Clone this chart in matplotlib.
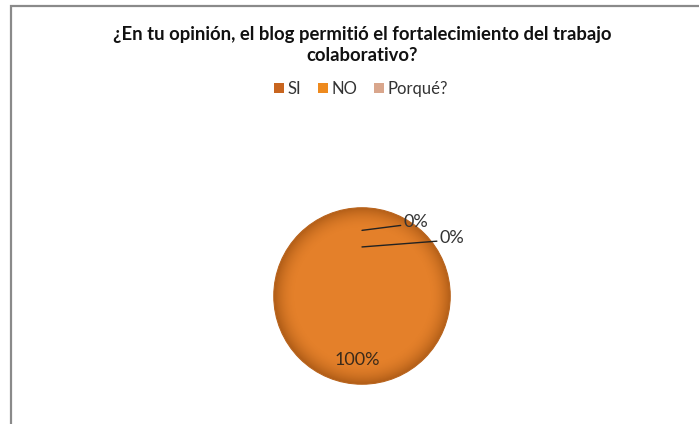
import numpy as np
import matplotlib.pyplot as plt
from matplotlib.patches import Rectangle, Circle

categories = ["SI", "NO", "Porqué?"]
values = [100, 0, 0]
pct_labels = ["100%", "0%", "0%"]
colors = ["#E4802A", "#F2961F", "#D9A68C"]
legend_colors = ["#C8651F", "#EE8A1E", "#D9A68C"]
title = "¿En tu opinión, el blog permitió el fortalecimiento del trabajo\ncolaborativo?"

plt.rcParams["font.family"] = ["Lato", "DejaVu Sans"]

fig = plt.figure(figsize=(6.99, 4.24), dpi=100)
fig.patch.set_facecolor("white")

# chart frame (cropped at the right and bottom)
fig.patches.append(Rectangle((11 / 699, -0.05), 1.0, 1 - 6 / 424 + 0.05,
                             transform=fig.transFigure, fill=False,
                             edgecolor="#8a8a8a", linewidth=1.6))

fig.text(362 / 699, 1 - 45 / 424, title, ha="center", va="center",
         fontsize=13.3, fontweight="bold", color="#111111", linespacing=1.35)

# legend
handles = [plt.Rectangle((0, 0), 1, 1, facecolor=c, edgecolor="none") for c in legend_colors]
fig.legend(handles, categories, loc="center", bbox_to_anchor=(361 / 699, 1 - 89 / 424),
           ncol=3, frameon=False, fontsize=12, handlelength=0.6, handleheight=0.6,
           handletextpad=0.2, columnspacing=1.0, labelcolor="#333333")

r_px = 90
cx, cy = 362, 296
ax = fig.add_axes([(cx - r_px) / 699, (424 - cy - r_px) / 424, 2 * r_px / 699, 2 * r_px / 424])
wedges, _ = ax.pie(values, colors=colors, startangle=90, counterclock=False,
                   wedgeprops=dict(linewidth=0))
ax.set_xlim(-1.02, 1.02)
ax.set_ylim(-1.02, 1.02)
ax.set_aspect("equal")
ax.axis("off")

# soft shading on the pie: darker toward the rim
yy, xx = np.mgrid[-1:1:300j, -1:1:300j]
rr = np.sqrt(xx ** 2 + yy ** 2)
shade = np.zeros((300, 300, 4))
shade[..., 0] = 0.45
shade[..., 1] = 0.2
shade[..., 3] = np.clip((rr - 0.75) / 0.25, 0, 1) ** 2 * 0.45
for w in wedges:
    if w.theta2 - w.theta1 > 0:
        overlay = ax.imshow(shade, extent=(-1, 1, -1, 1), origin="lower", zorder=2)
        overlay.set_clip_path(w)
ax.add_patch(Circle((0, 0), 1, fill=False, edgecolor="#B9651F", linewidth=0.8, zorder=2))

# data labels
ax.text(-0.05, -0.73, pct_labels[0], ha="center", va="center", fontsize=13, color="#3a2a1a", zorder=3)
ax.annotate(pct_labels[1], xy=(0.0, 0.744), xytext=(0.47, 0.84), fontsize=13, color="#333333",
            va="center", ha="left", zorder=3,
            arrowprops=dict(arrowstyle="-", color="#222222", linewidth=1.0, shrinkA=0, shrinkB=0,
                            relpos=(0, 0.3)))
ax.annotate(pct_labels[2], xy=(0.0, 0.556), xytext=(0.88, 0.66), fontsize=13, color="#333333",
            va="center", ha="left", zorder=3, annotation_clip=False,
            arrowprops=dict(arrowstyle="-", color="#222222", linewidth=1.0, shrinkA=0, shrinkB=0,
                            relpos=(0, 0.3)))

fig.savefig("out.png", dpi=100)
